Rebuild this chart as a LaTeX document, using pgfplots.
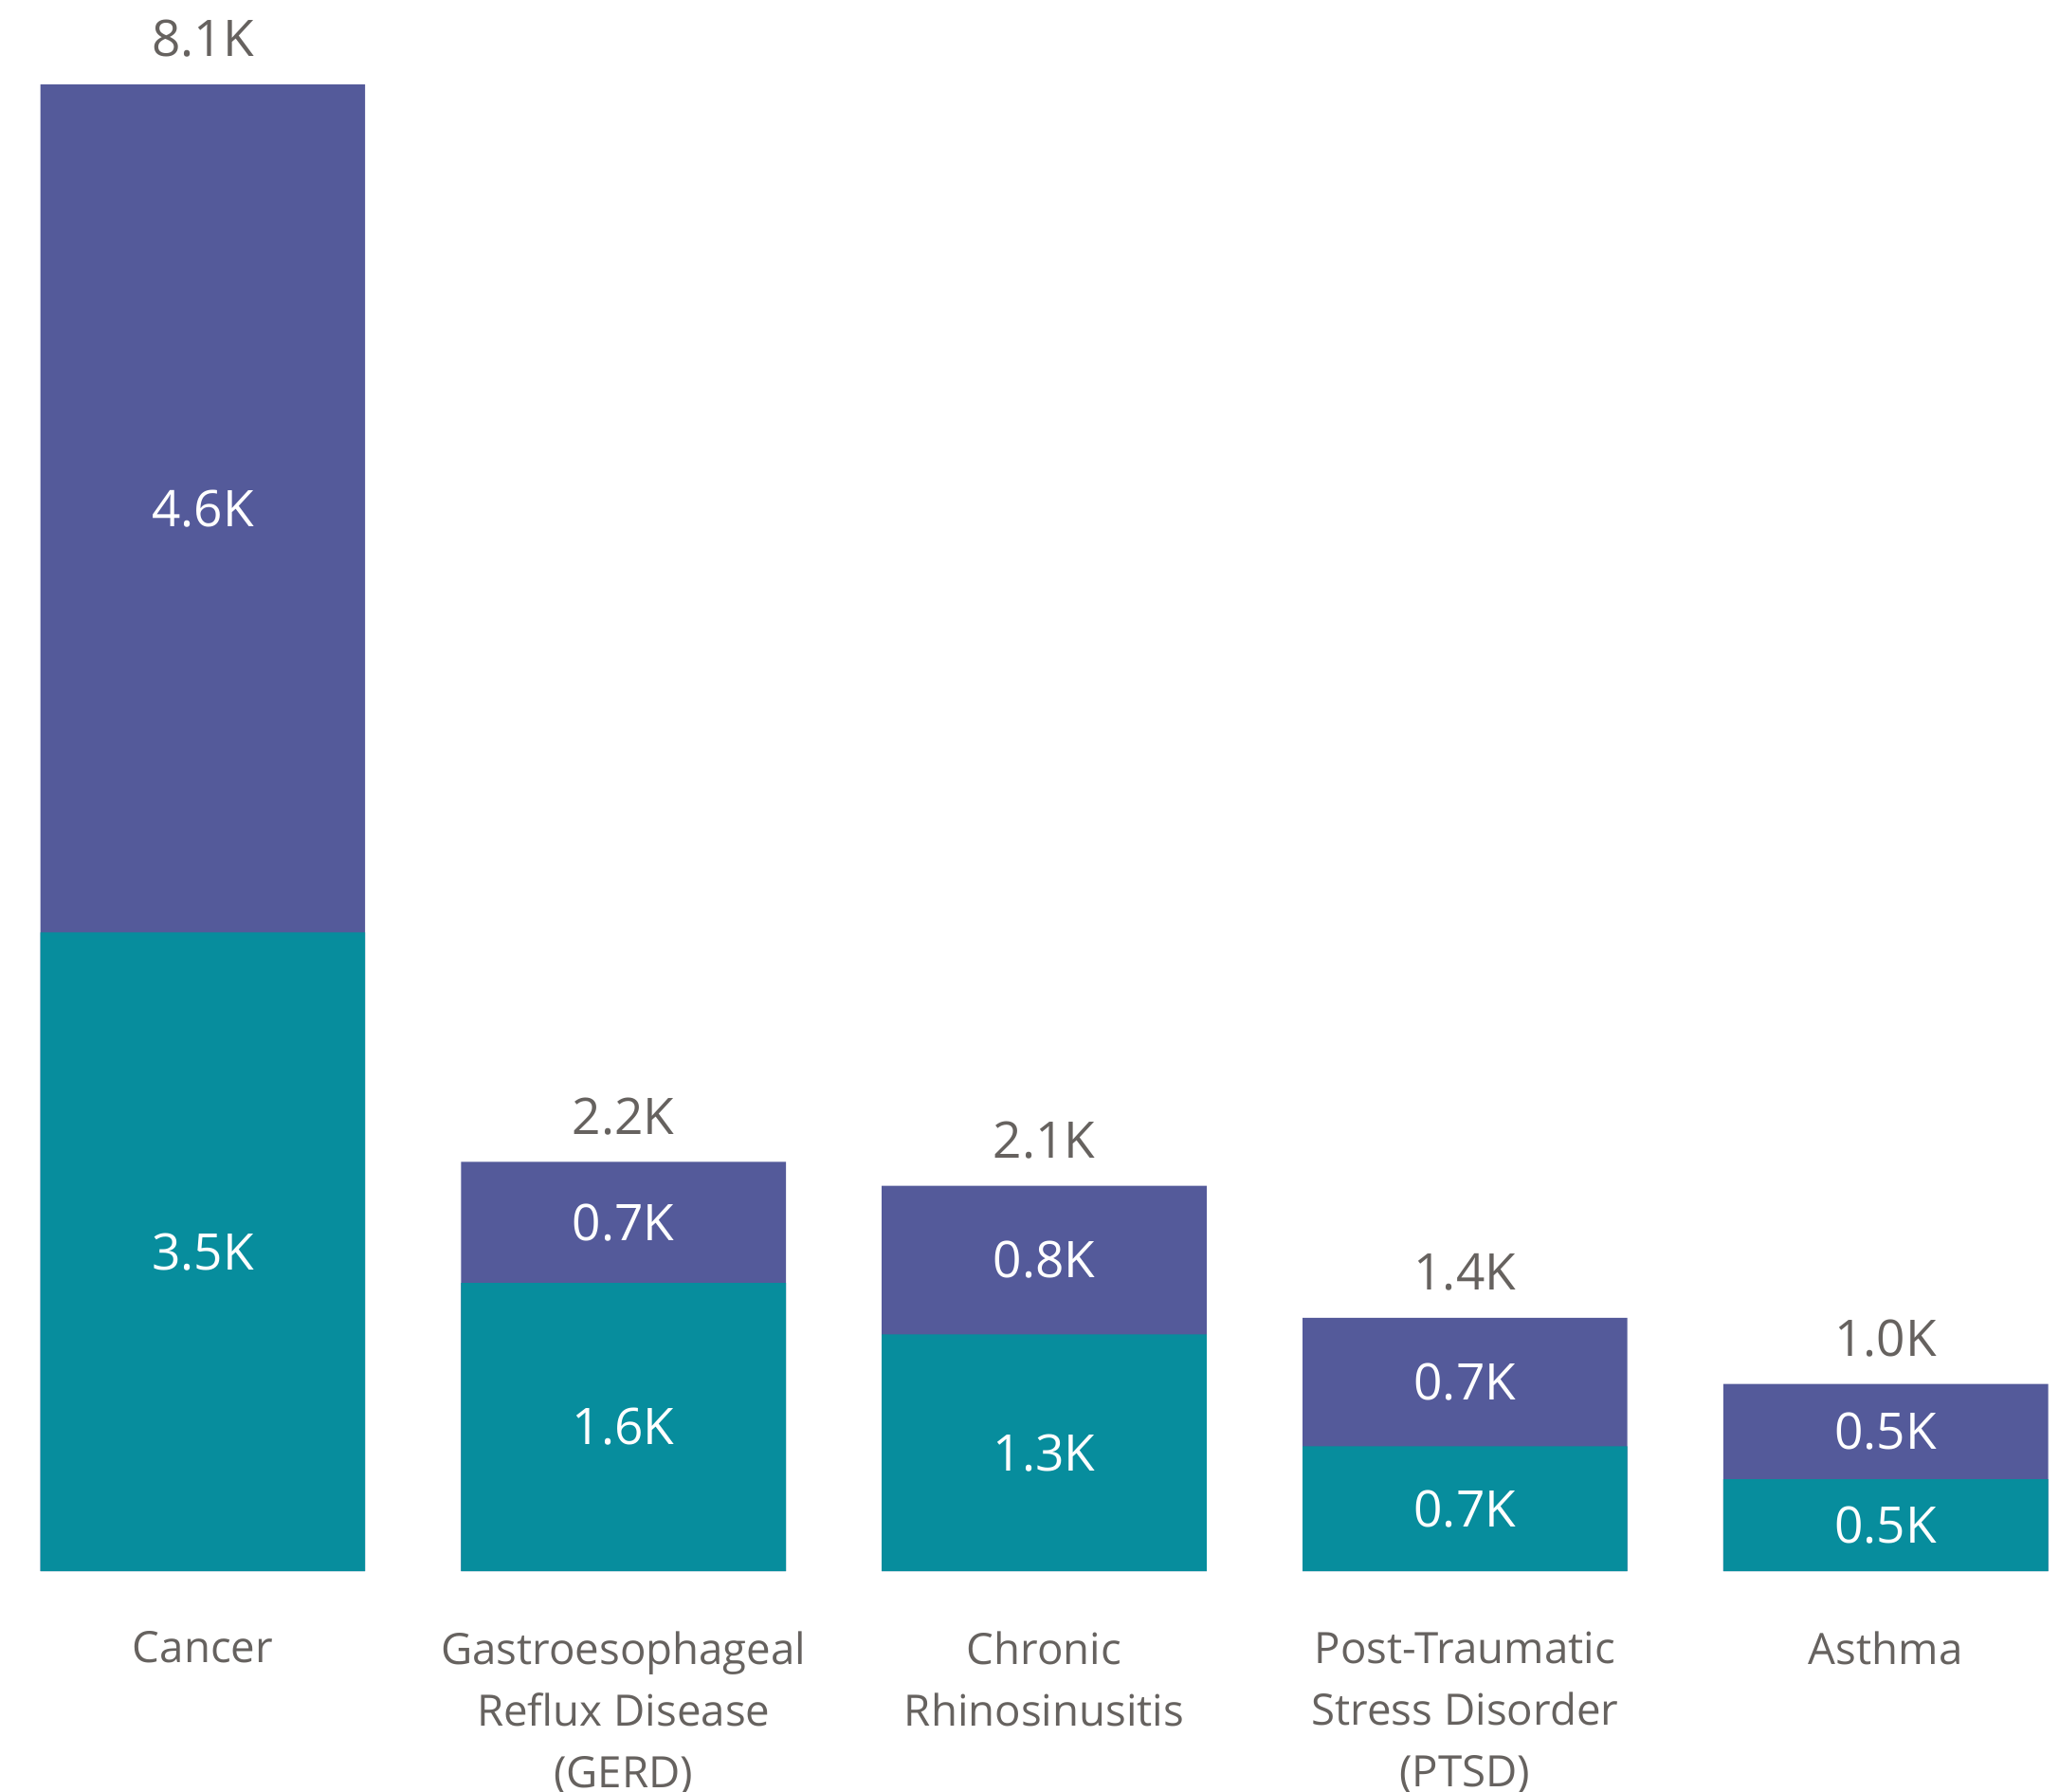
\documentclass[border=0pt]{standalone}
\usepackage{pgfplots}
\pgfplotsset{compat=1.18}
\usepackage{pgfplotstable}
\usepackage{fontspec}
\setmainfont{Open Sans}
\definecolor{tealbar}{HTML}{078D9D}
\definecolor{purplebar}{HTML}{545A9A}
\definecolor{labelgray}{HTML}{66625F}

% values in thousands
\pgfplotstableread{
x teal purple
0 3.48 4.62
1 1.57 0.66
2 1.29 0.81
3 0.68 0.70
4 0.50 0.52
}\cases

\begin{document}
\begin{tikzpicture}
\begin{axis}[
  scale only axis, width=543pt, height=414.25pt,
  xmin=-0.482, xmax=4.412, ymin=0, ymax=8.56,
  clip=false,
  axis line style={draw=none},
  major tick length=0,
  ytick=\empty,
  xtick={0,...,4},
  xticklabels={Cancer, {Gastroesophageal\\Reflux Disease\\(GERD)}, {Chronic\\Rhinosinusitis}, {Post-Traumatic\\Stress Disorder\\(PTSD)}, Asthma},
  xticklabel style={align=center, font=\fontsize{11.4}{16.25}\selectfont, text=labelgray, yshift=-12.4pt},
  /pgf/number format/assume math mode=true,
  valuelabel/.style={only marks, mark=none, point meta=explicit,
    nodes near coords={\pgfmathprintnumber[fixed,fixed zerofill,precision=1]{\pgfplotspointmeta}K},
    every node near coord/.append style={anchor=center, font=\fontsize{13.3}{16}\selectfont}},
]
% bars: purple drawn to the total, teal over its lower part
\addplot[ybar, bar width=0.772, bar shift=0pt, fill=purplebar, draw=none]
  table[x=x, y expr=\thisrow{teal}+\thisrow{purple}] {\cases};
\addplot[ybar, bar width=0.772, bar shift=0pt, fill=tealbar, draw=none]
  table[x=x, y=teal] {\cases};
% labels centred in each segment
\addplot[valuelabel, every node near coord/.append style={text=white}]
  table[x=x, y expr=\thisrow{teal}/2, meta=teal] {\cases};
\addplot[valuelabel, every node near coord/.append style={text=white}]
  table[x=x, y expr=\thisrow{teal}+\thisrow{purple}/2, meta=purple] {\cases};
% totals above the bars
\addplot[valuelabel, every node near coord/.append style={text=labelgray, yshift=12pt}]
  table[x=x, y expr=\thisrow{teal}+\thisrow{purple}, meta expr=\thisrow{teal}+\thisrow{purple}] {\cases};
\end{axis}
\pgfresetboundingbox
\path (0,-58pt) rectangle (543pt,414.25pt);
\end{tikzpicture}
\end{document}
